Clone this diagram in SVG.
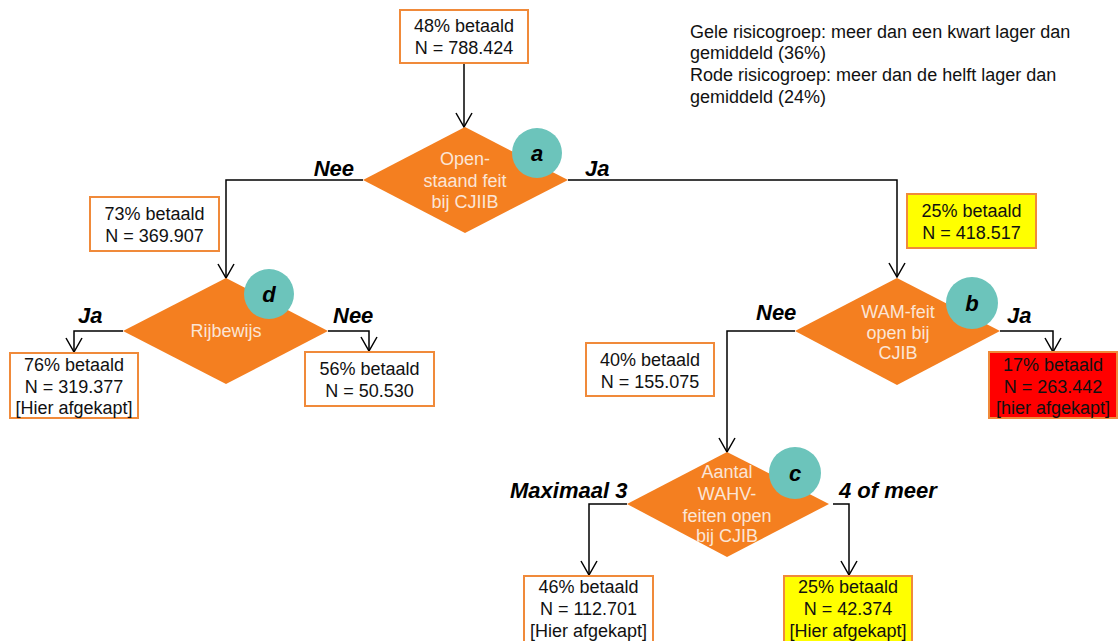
<svg xmlns="http://www.w3.org/2000/svg" width="1119" height="641" viewBox="0 0 1119 641">
<defs>
<marker id="arr" markerUnits="userSpaceOnUse" markerWidth="20" markerHeight="20" viewBox="-16 -10 20 20" refX="0" refY="0" orient="auto">
<path d="M-14,-8 L0,0 L-14,8" fill="none" stroke="#000" stroke-width="1.5"/>
</marker>
</defs>
<style>
.box{stroke:#f08a3a;stroke-width:2}
.w{fill:#fff}.y{fill:#ffff00}.r{fill:#ff0000}
.t{font-family:"Liberation Sans",Arial,sans-serif;font-size:18px;fill:#111;text-anchor:middle}
.dt{font-family:"Liberation Sans",Arial,sans-serif;font-size:18px;fill:#fbe5d6;text-anchor:middle}
.dia{fill:#f47f20}
.circ{fill:#6cc4bb}
.ct{font-family:"Liberation Sans",Arial,sans-serif;font-size:22px;font-weight:bold;font-style:italic;fill:#000;text-anchor:middle}
.lb{font-family:"Liberation Sans",Arial,sans-serif;font-size:22px;font-weight:bold;font-style:italic;fill:#000}
.lg{font-family:"Liberation Sans",Arial,sans-serif;font-size:18px;fill:#111}
.c{fill:none;stroke:#000;stroke-width:1.5;marker-end:url(#arr)}
</style>
<rect width="1119" height="641" fill="#fff"/>
<g id="connectors">
<path class="c" d="M464,63 V127"/>
<path class="c" d="M363,180 H226 V278"/>
<path class="c" d="M568,180 H897 V277"/>
<path class="c" d="M123,331 H74 V352"/>
<path class="c" d="M328,331 H369 V351"/>
<path class="c" d="M795,331 H727 V452"/>
<path class="c" d="M1000,331 H1053 V352"/>
<path class="c" d="M627,504 H589 V575"/>
<path class="c" d="M833,504 H849 V575"/>
</g>
<g id="labels">
<text class="lb" x="354" y="176" text-anchor="end">Nee</text>
<text class="lb" x="585" y="176">Ja</text>
<text class="lb" x="78" y="323">Ja</text>
<text class="lb" x="333" y="323">Nee</text>
<text class="lb" x="756" y="320">Nee</text>
<text class="lb" x="1007" y="323">Ja</text>
<text class="lb" x="510" y="498">Maximaal 3</text>
<text class="lb" x="839" y="498">4 of meer</text>
</g>
<g id="legend">
<text class="lg" x="690" y="38">Gele risicogroep: meer dan een kwart lager dan</text>
<text class="lg" x="690" y="59">gemiddeld (36%)</text>
<text class="lg" x="690" y="81">Rode risicogroep: meer dan de helft lager dan</text>
<text class="lg" x="690" y="103">gemiddeld (24%)</text>
</g>
<g id="box-top">
<rect class="box w" x="400" y="10" width="128" height="53"/>
<text class="t" x="464" y="32">48% betaald</text>
<text class="t" x="464" y="54">N = 788.424</text>
</g>
<g id="node-a">
<path class="dia" d="M465,127 L568,180 L465,233 L363,180 Z"/>
<text class="dt" x="465" y="165">Open-</text>
<text class="dt" x="465" y="187">staand feit</text>
<text class="dt" x="465" y="208">bij CJIIB</text>
<circle class="circ" cx="537" cy="153" r="25"/>
<text class="ct" x="537" y="161">a</text>
</g>
<g id="box-73">
<rect class="box w" x="90" y="197" width="129" height="54"/>
<text class="t" x="154.5" y="220">73% betaald</text>
<text class="t" x="154.5" y="242">N = 369.907</text>
</g>
<g id="node-d">
<path class="dia" d="M226,278 L328,331 L226,384 L123,331 Z"/>
<text class="dt" x="226" y="337">Rijbewijs</text>
<circle class="circ" cx="269" cy="294" r="25"/>
<text class="ct" x="269" y="302">d</text>
</g>
<g id="box-76">
<rect class="box w" x="10" y="353" width="128" height="65"/>
<text class="t" x="74" y="371">76% betaald</text>
<text class="t" x="74" y="393">N = 319.377</text>
<text class="t" x="74" y="414">[Hier afgekapt]</text>
</g>
<g id="box-56">
<rect class="box w" x="305" y="352" width="129" height="54"/>
<text class="t" x="369.5" y="375">56% betaald</text>
<text class="t" x="369.5" y="397">N = 50.530</text>
</g>
<g id="box-25a">
<rect class="box y" x="907" y="194" width="129" height="54"/>
<text class="t" x="971.5" y="217">25% betaald</text>
<text class="t" x="971.5" y="239">N = 418.517</text>
</g>
<g id="node-b">
<path class="dia" d="M897,278 L1000,331 L897,385 L795,331 Z"/>
<text class="dt" x="898" y="318">WAM-feit</text>
<text class="dt" x="898" y="339">open bij</text>
<text class="dt" x="898" y="359">CJIB</text>
<circle class="circ" cx="972" cy="303" r="26"/>
<text class="ct" x="972" y="311">b</text>
</g>
<g id="box-40">
<rect class="box w" x="586" y="343" width="128" height="53"/>
<text class="t" x="650" y="366">40% betaald</text>
<text class="t" x="650" y="388">N = 155.075</text>
</g>
<g id="box-17">
<rect class="box r" x="989" y="352" width="128" height="66"/>
<text class="t" x="1053" y="371">17% betaald</text>
<text class="t" x="1053" y="393">N = 263.442</text>
<text class="t" x="1053" y="414">[hier afgekapt]</text>
</g>
<g id="node-c">
<path class="dia" d="M727,452 L829,504 L727,557 L627,504 Z"/>
<text class="dt" x="727" y="478">Aantal</text>
<text class="dt" x="727" y="500">WAHV-</text>
<text class="dt" x="727" y="522">feiten open</text>
<text class="dt" x="727" y="542">bij CJIB</text>
<circle class="circ" cx="795" cy="473" r="26"/>
<text class="ct" x="795" y="481">c</text>
</g>
<g id="box-46">
<rect class="box w" x="524" y="576" width="129" height="70"/>
<text class="t" x="588.5" y="593">46% betaald</text>
<text class="t" x="588.5" y="615">N = 112.701</text>
<text class="t" x="588.5" y="637">[Hier afgekapt]</text>
</g>
<g id="box-25b">
<rect class="box y" x="784" y="576" width="128" height="70"/>
<text class="t" x="848" y="593">25% betaald</text>
<text class="t" x="848" y="615">N = 42.374</text>
<text class="t" x="848" y="637">[Hier afgekapt]</text>
</g>
</svg>
